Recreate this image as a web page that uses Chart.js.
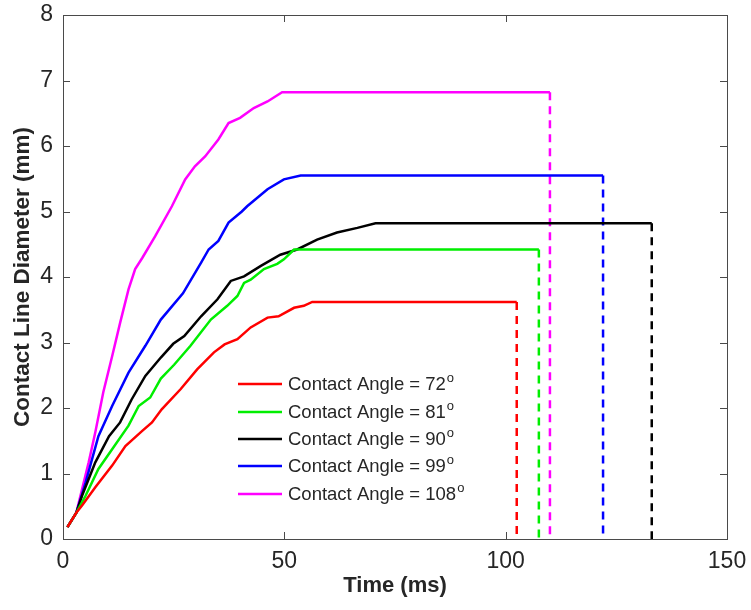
<!DOCTYPE html>
<html>
<head>
<meta charset="utf-8">
<script src="https://cdn.jsdelivr.net/npm/chart.js@4"></script>
<style>
  html, body { margin: 0; padding: 0; background: #fff; }
  #wrap { width: 751px; height: 610px; }
</style>
</head>
<body>
<div id="wrap"><canvas id="diameterChart"></canvas></div>
<script>
// contact angles (deg) and line colours
const angles = [72, 81, 90, 99, 108];
const colors = ['#ff0000', '#00ee00', '#000000', '#0000ff', '#ff00ff'];

// time (ms) / contact line diameter (mm)
const time72 = [1, 3, 4.3, 7.3, 11.1, 14.1, 17.9, 20.1, 22.3, 26.6, 30.3, 34.1, 36.5, 39.4, 42.4, 46.2, 48.7, 52.2, 54.4, 56.3, 102.5];
const diam72 = [0.18, 0.40, 0.51, 0.79, 1.12, 1.42, 1.65, 1.78, 1.98, 2.29, 2.59, 2.85, 2.97, 3.05, 3.23, 3.38, 3.40, 3.53, 3.56, 3.62, 3.62];

const time81 = [1, 3, 5.1, 8, 11.1, 14.8, 17.1, 19.7, 22.1, 25.1, 28.8, 33.4, 37.1, 39.4, 40.9, 42.4, 45.4, 48.4, 49.9, 52.2, 107.5];
const diam81 = [0.18, 0.40, 0.66, 1.07, 1.37, 1.73, 2.03, 2.16, 2.45, 2.66, 2.95, 3.35, 3.56, 3.71, 3.91, 3.96, 4.12, 4.20, 4.27, 4.42, 4.42];

const time90 = [1, 3, 4.3, 7.3, 10.4, 12.9, 15.5, 18.6, 22.1, 24.9, 27.4, 31.2, 34.9, 37.9, 40.9, 44.7, 49.1, 52.9, 57.4, 61.9, 66.5, 70.6, 133];
const diam90 = [0.18, 0.40, 0.66, 1.17, 1.57, 1.78, 2.13, 2.49, 2.77, 2.98, 3.10, 3.40, 3.66, 3.94, 4.01, 4.17, 4.34, 4.42, 4.57, 4.68, 4.75, 4.82, 4.82];

const time99 = [1, 3, 5.1, 8, 11.1, 14.8, 18.6, 22.1, 27.1, 31.2, 32.9, 35.1, 37.4, 40.4, 41.6, 46.2, 49.9, 53.7, 122];
const diam99 = [0.18, 0.40, 0.86, 1.57, 2.03, 2.54, 2.95, 3.35, 3.75, 4.22, 4.42, 4.55, 4.83, 5.00, 5.08, 5.34, 5.49, 5.55, 5.55];

const time108 = [1, 3, 5.8, 7.3, 9.1, 11.1, 12.9, 14.8, 16.3, 17.9, 20.8, 24.6, 27.6, 29.8, 32.1, 35.1, 37.4, 40, 43.1, 46.2, 49.5, 110];
const diam108 = [0.18, 0.40, 1.17, 1.63, 2.24, 2.79, 3.30, 3.81, 4.12, 4.29, 4.62, 5.08, 5.49, 5.69, 5.84, 6.10, 6.35, 6.43, 6.58, 6.68, 6.82, 6.82];

const times = [time72, time81, time90, time99, time108];
const diams = [diam72, diam81, diam90, diam99, diam108];

const xTicks = [0, 50, 100, 150];
const yTicks = [0, 1, 2, 3, 4, 5, 6, 7, 8];

const FONT = '"Liberation Sans", Arial, sans-serif';
const AXIS_COLOR = '#4a4a4a';

function toPoints(xs, ys) {
    return xs.map((x, i) => ({ x: x, y: ys[i] }));
}

const datasets = [];
for (let i = 0; i < angles.length; i++) {
    datasets.push({
        label: 'Contact Angle = ' + angles[i],
        data: toPoints(times[i], diams[i]),
        borderColor: colors[i],
        borderWidth: 2.5,
        pointRadius: 0,
        fill: false
    });
}
// dashed drop lines at the end of each plateau
for (let i = 0; i < angles.length; i++) {
    const t = times[i][times[i].length - 1];
    const d = diams[i][diams[i].length - 1];
    datasets.push({
        label: '',
        data: toPoints([t, t], [d, 0]),
        borderColor: colors[i],
        borderWidth: 2.5,
        borderDash: [8, 6],
        pointRadius: 0,
        fill: false
    });
}

// box + inward ticks, matlab style
const boxPlugin = {
    id: 'boxPlugin',
    afterDatasetsDraw(chart) {
        const { ctx, chartArea: a, scales } = chart;
        ctx.save();
        ctx.strokeStyle = AXIS_COLOR;
        ctx.lineWidth = 1;
        ctx.strokeRect(a.left + 0.5, a.top + 0.5, a.right - a.left, a.bottom - a.top);
        const len = 7;
        ctx.beginPath();
        xTicks.forEach(v => {
            const x = Math.round(scales.x.getPixelForValue(v)) + 0.5;
            ctx.moveTo(x, a.bottom); ctx.lineTo(x, a.bottom - len);
            ctx.moveTo(x, a.top); ctx.lineTo(x, a.top + len);
        });
        yTicks.forEach(v => {
            const y = Math.round(scales.y.getPixelForValue(v)) + 0.5;
            ctx.moveTo(a.left, y); ctx.lineTo(a.left + len, y);
            ctx.moveTo(a.right, y); ctx.lineTo(a.right - len, y);
        });
        ctx.stroke();
        ctx.restore();
    }
};

// legend with superscript "o"
const legendPlugin = {
    id: 'legendPlugin',
    afterDraw(chart) {
        const { ctx } = chart;
        const x0 = 238, lineLen = 44, textX = 288;
        const rows = [384, 412, 439, 466, 494];
        ctx.save();
        for (let i = 0; i < angles.length; i++) {
            const y = rows[i];
            ctx.strokeStyle = colors[i];
            ctx.lineWidth = 2.5;
            ctx.beginPath();
            ctx.moveTo(x0, y);
            ctx.lineTo(x0 + lineLen, y);
            ctx.stroke();
            ctx.fillStyle = '#262626';
            ctx.textBaseline = 'middle';
            ctx.font = '18.5px ' + FONT;
            const txt = chart.data.datasets[i].label;
            ctx.fillText(txt, textX, y + 1);
            const w = ctx.measureText(txt).width;
            ctx.font = '13px ' + FONT;
            ctx.fillText('o', textX + w + 1, y - 6);
        }
        ctx.restore();
    }
};

new Chart(document.getElementById('diameterChart'), {
    type: 'line',
    data: { datasets: datasets },
    options: {
        responsive: true,
        maintainAspectRatio: false,
        animation: false,
        layout: { padding: 0 },
        plugins: {
            legend: { display: false },
            tooltip: { enabled: false }
        },
        scales: {
            x: {
                type: 'linear',
                min: 0,
                max: 150,
                afterFit: s => { s.height = 71; s.paddingRight = 24; s.paddingLeft = 0; },
                afterBuildTicks: s => { s.ticks = xTicks.map(v => ({ value: v })); },
                grid: { display: false, drawTicks: false },
                border: { display: false },
                ticks: { color: '#262626', padding: 9, font: { family: FONT, size: 23 } },
                title: {
                    display: true,
                    text: 'Time (ms)',
                    color: '#262626',
                    padding: { top: 0, bottom: 11 },
                    font: { family: FONT, size: 22, weight: 'bold' }
                }
            },
            y: {
                min: 0,
                max: 8,
                afterFit: s => { s.width = 63; s.paddingTop = 15; s.paddingBottom = 0; },
                afterBuildTicks: s => { s.ticks = yTicks.map(v => ({ value: v })); },
                grid: { display: false, drawTicks: false },
                border: { display: false },
                ticks: { color: '#262626', padding: 10, font: { family: FONT, size: 23 } },
                title: {
                    display: true,
                    text: 'Contact Line Diameter (mm)',
                    color: '#262626',
                    padding: { top: 9, bottom: 0 },
                    font: { family: FONT, size: 22.5, weight: 'bold' }
                }
            }
        }
    },
    plugins: [boxPlugin, legendPlugin]
});
</script>
</body>
</html>
